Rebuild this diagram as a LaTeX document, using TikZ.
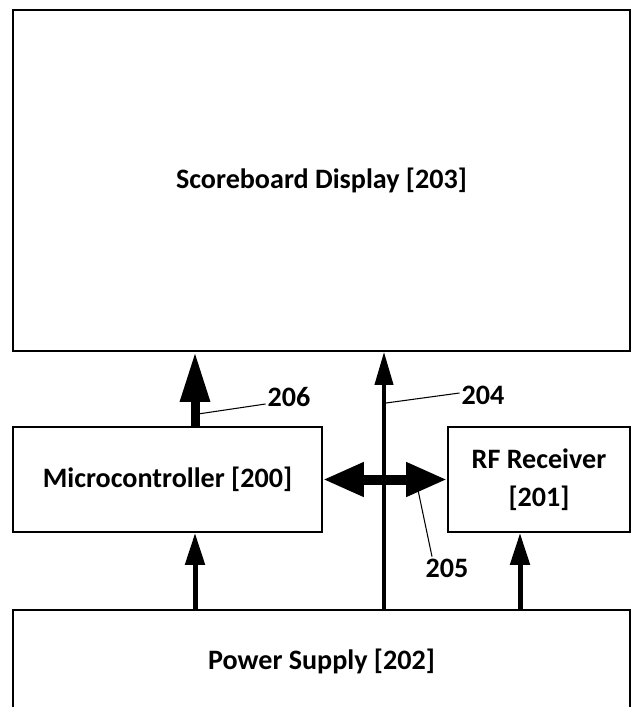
\documentclass[tikz,border=0pt]{standalone}
\usepackage{fontspec}
\setmainfont{Carlito}
\usetikzlibrary{arrows.meta}
\tikzset{
  block/.style={draw, line width=1pt, inner sep=0pt, align=center},
  bigarrow/.style={line width=0.18cm, -{Triangle[length=1cm,width=0.56cm]}},
  busarrow/.style={line width=0.08cm, -{Triangle[length=0.66cm,width=0.36cm]}},
  pwrarrow/.style={line width=0.1cm, -{Triangle[length=0.64cm,width=0.38cm]}},
  linkarrow/.style={line width=0.2cm, {Triangle[length=0.82cm,width=0.64cm]}-{Triangle[length=0.82cm,width=0.64cm]}},
  leader/.style={line width=0.6pt},
  refnum/.style={inner sep=1pt}
}
\begin{document}
\begin{tikzpicture}[x=0.02cm, y=-0.02cm, font=\fontsize{16}{21.5}\selectfont\bfseries]
    \useasboundingbox (0,0) rectangle (635,707);
    % Bloecke
    \node[block, minimum width=12.34cm, minimum height=6.82cm] (display) at (321.5,180.5) {Scoreboard Display [203]};
    \node[block, minimum width=6.18cm, minimum height=2.1cm] (micro) at (167.5,479.5) {Microcontroller [200]};
    \node[block, minimum width=3.64cm, minimum height=2.1cm] (rf) at (539,479.5) {RF Receiver\\{[201]}};
    \node[block, minimum width=12.34cm, minimum height=2.04cm] (power) at (321.5,661) {Power Supply [202]};
    % x-Positionen der Pfeile
    \coordinate (x206) at (195,0);
    \coordinate (x204) at (384,0);
    \coordinate (xmicro) at (195,0);
    \coordinate (xrf) at (520,0);
    % Pfeile
    \draw[bigarrow] (micro.north -| x206) -- (display.south -| x206);  %206
    \draw[busarrow] (power.north -| x204) -- (display.south -| x204);  %204
    \draw[linkarrow] (micro.east) -- (rf.west);  %205
    \foreach \target/\xpos in {micro/xmicro, rf/xrf}
    {
      \draw[pwrarrow] (power.north -| \xpos) -- (\target.south -| \xpos);
    }
    % Bezugszeichen
    \node[refnum] (l206) at (289,397) {206};
    \node[refnum] (l204) at (483,395) {204};
    \node[refnum] (l205) at (447,568) {205};
    \coordinate (p206) at (198,414);
    \coordinate (p204) at (386,403);
    \coordinate (p205) at (418,490);
    \draw[leader] (p206) -- ([yshift=-0.14cm]l206.west);
    \draw[leader] (p204) -- ([yshift=0.04cm]l204.west);
    \draw[leader] (p205) -- ([xshift=-0.3cm]l205.north);
\end{tikzpicture}
\end{document}
